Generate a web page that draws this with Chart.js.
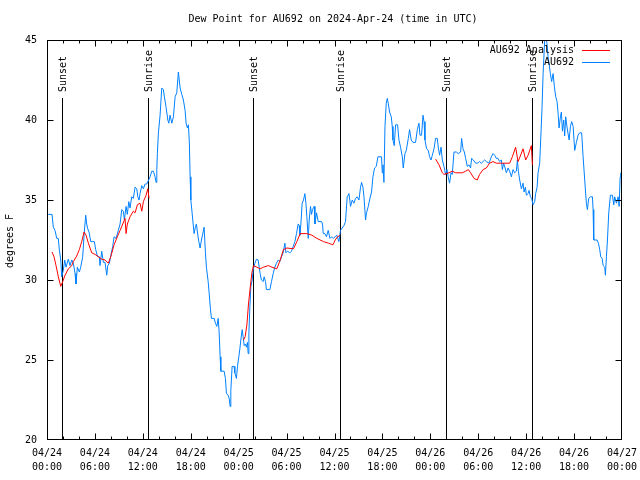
<!DOCTYPE html>
<html>
<head>
<meta charset="utf-8">
<script src="https://cdn.jsdelivr.net/npm/chart.js@4/dist/chart.umd.min.js"></script>
<style>
  body { margin: 0; background: #fff; }
</style>
</head>
<body>
<canvas id="dewChart" width="640" height="480"></canvas>
<script>
// hours since 04/24 00:00 UTC
const obsHours = [0.16,0.63,0.79,1.0,1.22,1.42,1.54,1.72,1.84,2.04,2.22,2.38,2.67,2.88,3.1,3.3,3.51,3.63,3.8,4.05,4.22,4.47,4.67,4.85,4.97,5.1,5.26,5.48,5.73,5.93,
  6.1,6.3,6.55,6.64,6.85,7.06,7.27,7.48,7.61,7.81,8.02,8.23,8.4,8.65,8.93,9.15,9.36,9.56,9.69,9.9,10.06,10.24,10.4,10.61,10.81,11.03,11.24,11.37,11.53,11.65,
  11.87,12.07,12.28,12.49,12.91,13.12,13.32,13.53,13.66,13.75,13.82,13.95,14.16,14.37,14.57,14.7,14.91,15.13,15.25,15.41,15.63,15.83,16.04,16.25,16.45,16.67,16.88,17.08,17.29,17.42,
  17.58,17.71,17.83,17.92,18.01,18.17,18.3,18.42,18.58,18.71,18.83,19.01,19.17,19.34,19.55,19.67,19.84,19.96,20.18,20.3,20.46,20.59,20.93,21.09,21.27,21.43,21.55,21.68,21.77,22.18,
  22.34,22.47,22.68,22.81,22.93,23.02,23.18,23.43,23.52,23.72,23.85,24.02,24.15,24.27,24.44,24.56,24.69,24.85,24.97,25.1,25.19,25.28,25.4,25.53,25.69,25.81,26.03,26.23,26.44,26.57,
  26.69,26.85,27.07,27.19,27.36,27.48,27.91,28.11,28.32,28.53,28.73,28.95,29.16,29.36,29.57,29.79,29.91,30.11,30.41,30.61,30.83,31.04,31.24,31.45,31.58,31.67,31.79,31.95,32.12,32.29,
  32.42,32.54,32.71,32.83,33.0,33.12,33.25,33.46,33.55,33.75,33.96,34.37,34.5,34.59,34.8,35.0,35.21,35.43,35.63,35.84,36.3,36.55,36.75,37.18,37.38,37.59,37.81,38.01,38.22,38.43,
  38.63,38.85,39.06,39.26,39.39,39.56,39.69,39.89,40.01,40.23,40.39,40.64,40.81,41.02,41.23,41.44,41.89,41.98,42.07,42.19,42.32,42.48,42.61,42.73,42.89,43.11,43.23,43.32,43.48,43.65,
  43.9,44.07,44.27,44.49,44.61,44.82,44.99,45.24,45.4,45.61,45.83,46.15,46.37,46.58,46.7,46.9,47.08,47.21,47.33,47.53,47.74,47.91,48.08,48.25,48.46,48.66,48.87,48.99,49.16,49.34,
  49.5,49.71,49.91,50.09,50.25,50.41,50.59,50.75,50.96,51.25,51.5,51.79,51.92,52.09,52.26,52.42,52.63,52.84,53.04,53.17,53.38,53.67,53.88,54.17,54.39,54.8,55.01,55.35,55.64,55.85,
  56.05,56.27,56.48,56.68,56.89,57.02,57.18,57.36,57.52,57.73,57.93,58.15,58.36,58.56,58.77,58.9,59.02,59.19,59.4,59.61,59.74,59.9,60.03,60.24,60.36,60.53,60.69,60.86,61.07,61.19,
  61.37,61.49,61.69,61.82,61.99,62.12,62.32,62.45,62.6,62.74,62.87,63.03,63.19,63.37,63.53,63.7,63.87,64.0,64.12,64.29,64.41,64.54,64.7,64.82,64.95,65.13,65.38,65.54,65.7,65.88,
  66.08,66.29,66.5,66.7,66.95,67.13,67.33,67.54,67.67,67.83,68.05,68.3,68.38,68.46,68.88,69.05,69.21,69.34,69.51,69.64,69.84,69.92,70.05,70.18,70.34,70.55,70.8,70.97,71.09,71.3,
  71.52,71.64,71.77,71.84];
const obsDew = [34.1,34.1,33.3,33.1,32.6,32.6,31.9,31.25,30.2,30.6,31.25,30.8,31.3,30.9,31.25,31.05,30.4,29.75,30.8,30.5,30.8,31.45,33.0,34.05,33.5,33.2,33.0,32.4,32.4,32.4,
  31.9,31.5,31.45,30.9,31.8,31.1,31.1,30.3,30.9,31.05,31.6,32.1,32.7,32.6,33.1,33.5,34.4,34.3,33.75,34.6,34.1,34.9,34.5,35.2,35.1,35.8,35.7,35.2,35.0,35.4,
  35.9,35.7,36.0,36.0,36.45,36.8,36.8,36.45,36.1,36.9,37.9,39.2,40.3,42.0,41.9,41.45,40.8,40.0,39.8,40.3,39.8,40.2,41.45,41.7,43.0,42.0,41.6,41.25,40.6,39.8,
  39.5,39.7,38.5,36.45,35.0,34.2,33.5,32.9,33.3,33.5,33.0,32.4,32.0,32.5,33.0,33.3,31.7,30.8,29.9,29.2,28.2,27.6,27.6,27.3,27.1,27.6,26.8,25.2,24.3,24.3,
  23.85,22.9,22.8,22.6,22.1,23.1,24.6,24.6,24.2,23.85,24.6,25.2,25.7,26.25,26.9,26.45,25.9,26.0,25.8,26.1,25.4,26.7,28.3,29.6,30.0,30.6,31.05,31.3,31.25,30.8,
  30.4,30.0,29.9,30.2,29.9,29.4,29.4,29.9,30.4,30.8,31.05,31.25,31.15,31.45,31.7,32.3,31.7,31.8,31.7,31.8,32.1,32.4,32.9,33.5,33.4,32.8,33.5,34.8,35.0,35.4,
  34.8,33.95,32.6,33.75,34.6,34.1,34.4,34.6,33.5,34.2,33.65,33.65,33.5,32.9,32.9,32.7,33.1,32.6,32.7,32.6,32.8,32.4,33.1,33.4,33.65,35.2,35.4,34.6,35.0,34.8,
  35.1,35.2,35.0,35.8,36.1,35.8,35.2,33.75,34.2,34.6,35.0,35.5,36.45,37.0,37.1,37.7,37.7,36.7,37.2,36.1,39.6,41.05,41.35,41.05,40.5,40.2,39.6,38.75,38.4,39.7,
  39.7,38.75,38.3,37.7,37.0,37.9,38.1,38.85,39.4,38.75,38.6,38.6,39.4,39.8,39.05,39.05,40.3,39.9,38.75,38.2,38.1,37.7,37.5,37.8,38.2,38.85,38.85,38.3,37.8,38.3,
  37.5,37.1,36.6,36.9,36.4,36.05,36.7,36.6,38.0,38.0,37.9,38.0,38.85,38.2,38.0,37.6,37.1,37.2,37.0,37.6,37.5,37.3,37.3,37.4,37.3,37.5,37.4,37.3,37.7,37.9,
  37.8,37.6,37.6,37.4,37.5,36.9,37.3,37.0,36.7,37.0,36.8,36.45,36.9,36.7,36.8,37.5,36.8,36.25,35.7,36.05,35.5,35.8,35.3,35.4,35.6,35.2,35.1,34.7,34.9,35.4,
  35.8,36.7,37.3,38.75,40.8,42.9,45.0,45.3,44.8,43.95,43.5,42.9,42.4,42.9,42.1,41.45,41.15,40.4,39.5,40.2,40.5,39.3,40.0,39.0,40.2,39.5,38.75,39.6,39.9,39.6,
  38.1,38.6,39.05,39.2,39.2,37.7,36.25,34.8,34.4,35.1,35.2,35.2,34.4,32.5,32.5,32.3,31.9,31.45,31.35,30.9,30.8,30.3,31.45,32.5,34.2,35.3,35.3,34.7,35.2,34.8,
  35.2,34.6,36.45,36.7];

// analysis series, null = no analysis (gap)
const anaHours = [0.63,0.88,1.13,1.42,1.72,1.97,2.26,2.67,3.1,3.3,3.72,4.05,4.35,4.64,4.89,5.18,5.6,6.02,6.43,6.85,7.27,7.68,7.98,8.4,8.81,9.15,9.49,9.77,9.9,10.06,
  10.4,10.81,11.03,11.32,11.65,11.87,12.07,12.41,12.62,12.78,
  18.0,
  24.6,24.81,25.03,25.23,25.44,25.65,25.85,26.28,26.69,27.11,27.73,28.16,28.78,29.2,29.61,30.04,30.86,31.29,31.7,32.54,33.17,33.8,34.62,35.25,35.8,36.09,36.38,36.72,
  42.0,
  48.66,49.09,49.5,49.71,50.34,50.75,51.17,52.0,52.42,52.76,53.04,53.47,53.88,54.17,54.6,55.01,55.42,55.85,56.27,57.93,58.27,58.68,58.98,59.27,59.61,59.94,60.24,60.65,60.78];
const anaDew = [31.75,31.45,30.9,30.2,29.6,29.9,30.3,30.7,30.9,31.15,31.5,31.9,32.4,33.0,32.8,32.3,31.7,31.6,31.45,31.3,31.25,31.05,31.45,32.2,32.7,33.1,33.5,33.85,32.9,33.5,
  33.95,34.3,34.2,34.7,34.8,34.3,34.9,35.3,35.7,35.1,
  null,
  26.25,26.45,27.2,28.5,29.5,30.45,30.9,30.8,30.7,30.8,30.9,30.8,30.7,31.25,31.9,32.0,31.95,32.4,32.9,32.9,32.8,32.6,32.4,32.3,32.2,32.5,32.7,32.8,
  null,
  37.55,37.2,36.7,36.6,36.7,36.8,36.7,36.7,36.8,36.9,36.7,36.35,36.25,36.6,36.9,37.0,37.3,37.4,37.3,37.3,37.7,38.3,37.4,37.75,38.2,37.5,37.8,38.4,37.2];

const tickDates = ['04/24','04/24','04/24','04/24','04/25','04/25','04/25','04/25','04/26','04/26','04/26','04/26','04/27'];
const tickTimes = ['00:00','06:00','12:00','18:00','00:00','06:00','12:00','18:00','00:00','06:00','12:00','18:00','00:00'];

const eventHours = [1.84, 12.7, 25.85, 36.7, 49.9, 60.7];
const eventNames = ['Sunset','Sunrise','Sunset','Sunrise','Sunset','Sunrise'];

const seriesNames = ['AU692 Analysis', 'AU692'];
const seriesColors = ['#ff0000', '#0080ff'];

const FONT = '10px "DejaVu Sans Mono", "Liberation Mono", monospace';

function toPoints(xs, ys){
    let pts = [];
    for(let i = 0; i < xs.length; i++){
        pts.push({x: xs[i], y: ys[i]});
    }
    return pts;
}

const gnuplotLook = {
    id: 'gnuplotLook',
    beforeDatasetsDraw(chart){
        const ctx = chart.ctx;
        const xs = chart.scales.x;
        const area = chart.chartArea;
        ctx.save();
        ctx.strokeStyle = '#000';
        ctx.fillStyle = '#000';
        ctx.lineWidth = 1;
        ctx.font = FONT;
        for(let i = 0; i < eventHours.length; i++){
            let px = Math.round(xs.getPixelForValue(eventHours[i])) + 0.5;
            ctx.beginPath();
            ctx.moveTo(px, 98);
            ctx.lineTo(px, area.bottom);
            ctx.stroke();
            ctx.save();
            ctx.translate(px + 1, 92);
            ctx.rotate(-Math.PI/2);
            ctx.textAlign = 'left';
            ctx.textBaseline = 'middle';
            ctx.fillText(eventNames[i], 0, 0);
            ctx.restore();
        }
        ctx.restore();
    },
    afterDraw(chart){
        const ctx = chart.ctx;
        const xs = chart.scales.x;
        const ys = chart.scales.y;
        const a = chart.chartArea;
        const L = Math.round(a.left) + 0.5, R = Math.round(a.right) - 0.5;
        const T = Math.round(a.top) + 0.5, B = Math.round(a.bottom) - 0.5;
        ctx.save();
        ctx.strokeStyle = '#000';
        ctx.lineWidth = 1;
        ctx.strokeRect(L, T, R - L, B - T);

        // ticks pointing inward, mirrored on all sides
        ctx.beginPath();
        for(let h = 2; h < 72; h += 2){
            let px = Math.round(xs.getPixelForValue(h)) + 0.5;
            let len = (h % 6 === 0) ? 6 : 3;
            ctx.moveTo(px, B); ctx.lineTo(px, B - len);
            ctx.moveTo(px, T); ctx.lineTo(px, T + len);
        }
        for(let v = 25; v < 45; v += 5){
            let py = Math.round(ys.getPixelForValue(v)) + 0.5;
            ctx.moveTo(L, py); ctx.lineTo(L + 6, py);
            ctx.moveTo(R, py); ctx.lineTo(R - 6, py);
        }
        ctx.stroke();

        ctx.fillStyle = '#000';
        ctx.font = FONT;
        ctx.textBaseline = 'middle';

        ctx.textAlign = 'center';
        ctx.fillText('Dew Point for AU692 on 2024-Apr-24 (time in UTC)', 333, 19);

        ctx.save();
        ctx.translate(10, 241);
        ctx.rotate(-Math.PI/2);
        ctx.fillText('degrees F', 0, 0);
        ctx.restore();

        // key
        const keyY = [50, 62];
        for(let i = 0; i < seriesNames.length; i++){
            ctx.textAlign = 'right';
            ctx.fillStyle = '#000';
            ctx.fillText(seriesNames[i], 574, keyY[i]);
            ctx.strokeStyle = seriesColors[i];
            ctx.beginPath();
            ctx.moveTo(582, keyY[i] + 0.5);
            ctx.lineTo(610, keyY[i] + 0.5);
            ctx.stroke();
        }
        ctx.restore();
    }
};

new Chart('dewChart', {
    type: 'line',
    data: {
        datasets: [{
            label: seriesNames[0],
            data: toPoints(anaHours, anaDew),
            borderColor: seriesColors[0],
            borderWidth: 1,
            pointRadius: 0,
            spanGaps: false,
            tension: 0
        }, {
            label: seriesNames[1],
            data: toPoints(obsHours, obsDew),
            borderColor: seriesColors[1],
            borderWidth: 1,
            pointRadius: 0,
            tension: 0
        }]
    },
    options: {
        responsive: false,
        animation: false,
        layout: {padding: {top: 40, right: 18, left: 0, bottom: 0}},
        plugins: {legend: {display: false}, title: {display: false}, tooltip: {enabled: false}},
        scales: {
            x: {
                type: 'linear',
                min: 0,
                max: 72,
                grid: {display: false, drawTicks: false},
                border: {display: false},
                afterFit: function(scale){
                    scale.height = 40;
                    scale.paddingLeft = 0;
                    scale.paddingRight = 0;
                },
                ticks: {
                    stepSize: 6,
                    maxRotation: 0,
                    autoSkip: false,
                    padding: 6,
                    color: '#000',
                    font: {family: '"DejaVu Sans Mono", monospace', size: 10, lineHeight: 1.4},
                    callback: function(value){
                        let i = Math.round(value / 6);
                        return [tickDates[i], tickTimes[i]];
                    }
                }
            },
            y: {
                min: 20,
                max: 45,
                grid: {display: false, drawTicks: false},
                border: {display: false},
                afterFit: function(scale){
                    scale.width = 47;
                    scale.paddingTop = 0;
                    scale.paddingBottom = 0;
                },
                ticks: {
                    stepSize: 5,
                    padding: 10,
                    color: '#000',
                    font: {family: '"DejaVu Sans Mono", monospace', size: 10}
                }
            }
        }
    },
    plugins: [gnuplotLook]
});
</script>
</body>
</html>
